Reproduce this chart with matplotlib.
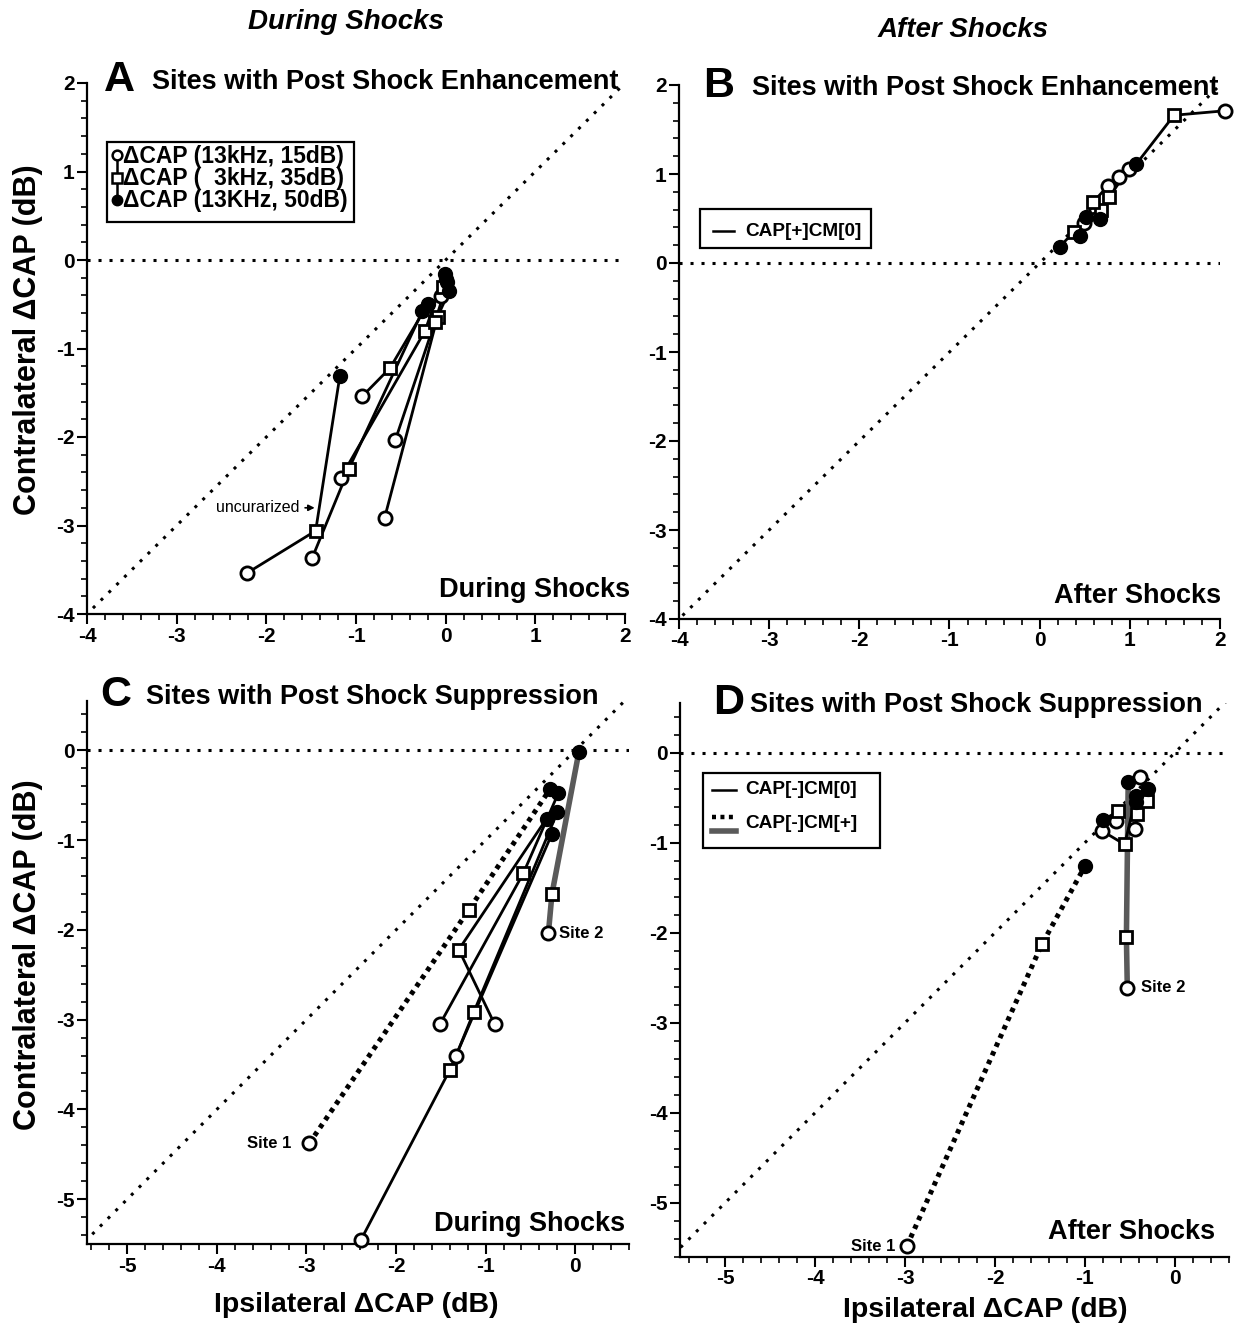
import numpy as np
import matplotlib
matplotlib.use("Agg")
import matplotlib.pyplot as plt
from matplotlib.lines import Line2D
from matplotlib.patches import Rectangle
from matplotlib.ticker import MultipleLocator

plt.rcParams['font.family'] = ['Liberation Sans', 'DejaVu Sans']
plt.rcParams['font.weight'] = 'bold'
plt.rcParams['axes.unicode_minus'] = False

W, H = 1247, 1332

# each site goes 15dB (open circle) -> 35dB (square) -> 50dB (filled circle)
# panel A: during shocks, sites with post shock enhancement
a_open_x = [-2.22, -1.49, -0.93, -1.17, -0.68, -0.56, -0.05]
a_open_y = [-3.54, -3.37, -1.54, -2.46, -2.91, -2.03, -0.41]
a_sq_x = [-1.45, -1.08, -0.62, -0.23, -0.09, -0.12, -0.03]
a_sq_y = [-3.06, -2.36, -1.22, -0.80, -0.64, -0.70, -0.30]
a_fill_x = [-1.18, -0.26, -0.20, -0.01, 0.04, 0.02, 0.00]
a_fill_y = [-1.31, -0.58, -0.50, -0.16, -0.35, -0.25, -0.22]

# panel B: after shocks, enhancement sites
b_open_x = [2.05, 0.99, 0.88, 0.76, 0.49]
b_open_y = [1.71, 1.06, 0.97, 0.87, 0.45]
b_sq_x = [1.49, 0.77, 0.68, 0.59, 0.38]
b_sq_y = [1.66, 0.74, 0.59, 0.68, 0.35]
b_fill_x = [1.07, 0.67, 0.51, 0.45, 0.22]
b_fill_y = [1.11, 0.50, 0.52, 0.30, 0.18]

# panel C: during shocks, sites with post shock suppression
# style: 0 = CAP[-]CM[0] (solid), 1 = CAP[-]CM[+] site 1 (dotted), 2 = CAP[-]CM[+] site 2 (grey)
c_style = [1, 2, 0, 0, 0, 0]
c_open_x = [-2.97, -0.30, -2.39, -1.33, -1.51, -0.90]
c_open_y = [-4.38, -2.04, -5.45, -3.40, -3.05, -3.05]
c_sq_x = [-1.19, -0.26, -1.40, -1.13, -0.58, -1.30]
c_sq_y = [-1.78, -1.60, -3.56, -2.91, -1.37, -2.22]
c_fill_x = [-0.28, 0.04, -0.26, -0.20, -0.19, -0.32]
c_fill_y = [-0.43, -0.02, -0.93, -0.69, -0.48, -0.76]

# panel D: after shocks, suppression sites
d_style = [1, 2, 0, 0, 0, 0]
d_open_x = [-2.98, -0.53, -0.81, -0.66, -0.44, -0.39]
d_open_y = [-5.48, -2.61, -0.87, -0.76, -0.85, -0.27]
d_sq_x = [-1.48, -0.54, -0.56, -0.63, -0.42, -0.31]
d_sq_y = [-2.13, -2.05, -1.02, -0.65, -0.68, -0.54]
d_fill_x = [-1.00, -0.52, -0.43, -0.80, -0.43, -0.30]
d_fill_y = [-1.26, -0.33, -0.48, -0.75, -0.55, -0.41]

DOT = (0, (1, 2.6))
THICK_DOT = (0, (0.9, 1.0))
GREY = '#5a5a5a'


def fx(px):
    return px / W


def fy(py):
    return 1 - py / H


def add_axes_px(fig, left, top, right, bottom):
    return fig.add_axes([fx(left), fy(bottom), (right - left) / W, (bottom - top) / H])


def setup(ax, xlim, ylim):
    ax.set_xlim(*xlim)
    ax.set_ylim(*ylim)
    for s in ['top', 'right']:
        ax.spines[s].set_visible(False)
    for s in ['left', 'bottom']:
        ax.spines[s].set_linewidth(1.6)
    ax.xaxis.set_major_locator(MultipleLocator(1))
    ax.yaxis.set_major_locator(MultipleLocator(1))
    ax.xaxis.set_minor_locator(MultipleLocator(0.2))
    ax.yaxis.set_minor_locator(MultipleLocator(0.2))
    ax.tick_params(which='major', direction='out', length=7, width=1.5, labelsize=15, pad=2)
    ax.tick_params(which='minor', direction='out', length=4, width=1.2)
    ax.plot([-7, 3], [-7, 3], color='k', lw=2.2, ls=DOT, zorder=1)
    ax.axhline(0, color='k', lw=2.2, ls=DOT, zorder=1)


def draw_sites(ax, ox, oy, sx, sy, fx_, fy_, styles=None):
    n = len(ox)
    for i in range(n):
        xs = [ox[i], sx[i], fx_[i]]
        ys = [oy[i], sy[i], fy_[i]]
        st = 0 if styles is None else styles[i]
        if st == 0:
            ax.plot(xs, ys, color='k', lw=2.0, zorder=2)
        elif st == 1:
            ax.plot(xs, ys, color='k', lw=3.6, ls=THICK_DOT, zorder=2)
        else:
            ax.plot(xs, ys, color=GREY, lw=4.0, zorder=2)
    ax.plot(ox, oy, 'o', ms=9.5, mfc='white', mec='k', mew=2.0, ls='none', zorder=4, clip_on=False)
    ax.plot(sx, sy, 's', ms=8.5, mfc='white', mec='k', mew=2.0, ls='none', zorder=4, clip_on=False)
    ax.plot(fx_, fy_, 'o', ms=10, mfc='k', mec='k', ls='none', zorder=5, clip_on=False)


fig = plt.figure(figsize=(W / 100, H / 100), dpi=100)

axA = add_axes_px(fig, 87, 83, 625, 614)
setup(axA, (-4, 2), (-4, 2))
draw_sites(axA, a_open_x, a_open_y, a_sq_x, a_sq_y, a_fill_x, a_fill_y)
axA.annotate('uncurarized', xy=(-1.43, -2.80), xytext=(-1.63, -2.80),
             ha='right', va='center', fontsize=11.5, fontweight='normal',
             arrowprops=dict(arrowstyle='-|>', lw=1.2, color='k', mutation_scale=9))

axB = add_axes_px(fig, 679, 85, 1220, 619)
setup(axB, (-4, 2), (-4, 2))
draw_sites(axB, b_open_x, b_open_y, b_sq_x, b_sq_y, b_fill_x, b_fill_y)

axC = add_axes_px(fig, 87, 701, 629, 1244)
setup(axC, (-5.45, 0.6), (-5.5, 0.55))
draw_sites(axC, c_open_x, c_open_y, c_sq_x, c_sq_y, c_fill_x, c_fill_y, c_style)
axC.text(c_open_x[0] - 0.2, c_open_y[0], 'Site 1', ha='right', va='center', fontsize=12)
axC.text(c_open_x[1] + 0.12, c_open_y[1], 'Site 2', ha='left', va='center', fontsize=12)

axD = add_axes_px(fig, 680, 703, 1229, 1257)
setup(axD, (-5.5, 0.6), (-5.6, 0.55))
draw_sites(axD, d_open_x, d_open_y, d_sq_x, d_sq_y, d_fill_x, d_fill_y, d_style)
axD.text(d_open_x[0] - 0.13, d_open_y[0], 'Site 1', ha='right', va='center', fontsize=12)
axD.text(d_open_x[1] + 0.15, d_open_y[1], 'Site 2', ha='left', va='center', fontsize=12)

# headers, titles, labels
fig.text(fx(346), fy(22), 'During Shocks', style='italic', fontsize=20, ha='center', va='center')
fig.text(fx(963), fy(30), 'After Shocks', style='italic', fontsize=20, ha='center', va='center')

for letter, lx, tx, y, title in [('A', 104, 152, 80, 'Sites with Post Shock Enhancement'),
                                 ('B', 703, 752, 86, 'Sites with Post Shock Enhancement'),
                                 ('C', 100, 146, 695, 'Sites with Post Shock Suppression'),
                                 ('D', 713, 750, 703, 'Sites with Post Shock Suppression')]:
    fig.text(fx(lx), fy(y), letter, fontsize=31, ha='left', va='center')
    fig.text(fx(tx), fy(y + 2), title, fontsize=19.5, ha='left', va='center')

for x, y, s in [(630, 590, 'During Shocks'), (1221, 596, 'After Shocks'),
                (625, 1224, 'During Shocks'), (1215, 1232, 'After Shocks')]:
    fig.text(fx(x), fy(y), s, fontsize=19.5, ha='right', va='center')

for y in [340, 955]:
    fig.text(fx(28), fy(y), 'Contralateral ΔCAP (dB)', rotation=90, fontsize=22, ha='center', va='center')
fig.text(fx(356), fy(1305), 'Ipsilateral ΔCAP (dB)', fontsize=20.5, ha='center', va='center')
fig.text(fx(985), fy(1310), 'Ipsilateral ΔCAP (dB)', fontsize=20.5, ha='center', va='center')


def box(left, top, right, bottom):
    fig.add_artist(Rectangle((fx(left), fy(bottom)), (right - left) / W, (bottom - top) / H,
                             transform=fig.transFigure, fill=False, ec='k', lw=1.6))


def seg(x0, x1, y, **kw):
    fig.add_artist(Line2D([fx(x0), fx(x1)], [fy(y), fy(y)], transform=fig.transFigure, **kw))


# legend A: markers joined by a vertical stem
box(107, 142, 354, 222)
fig.add_artist(Line2D([fx(117), fx(117)], [fy(155), fy(200)], transform=fig.transFigure, color='k', lw=1.8))
fig.add_artist(Line2D([fx(117)], [fy(155)], transform=fig.transFigure, marker='o', ms=7, mfc='white', mec='k', mew=1.8))
fig.add_artist(Line2D([fx(117)], [fy(178)], transform=fig.transFigure, marker='s', ms=6.5, mfc='white', mec='k', mew=1.8))
fig.add_artist(Line2D([fx(117)], [fy(200)], transform=fig.transFigure, marker='o', ms=7.5, mfc='k', mec='k'))
for y, s in [(156, 'ΔCAP (13kHz, 15dB)'), (179, 'ΔCAP (  3kHz, 35dB)'), (201, 'ΔCAP (13KHz, 50dB)')]:
    fig.text(fx(123), fy(y), s, fontsize=16.5, ha='left', va='center')

# legend B
box(700, 209, 871, 248)
seg(713, 734, 231, color='k', lw=1.8)
fig.text(fx(745), fy(231), 'CAP[+]CM[0]', fontsize=13.7, ha='left', va='center')

# legend D
box(703, 773, 880, 848)
seg(712, 736, 790, color='k', lw=1.8)
fig.text(fx(745), fy(790), 'CAP[-]CM[0]', fontsize=13.7, ha='left', va='center')
seg(712, 736, 817, color='k', lw=3.2, ls=THICK_DOT)
seg(712, 736, 831, color=GREY, lw=4)
fig.text(fx(745), fy(823), 'CAP[-]CM[+]', fontsize=13.7, ha='left', va='center')

fig.savefig('out.png', dpi=100)
